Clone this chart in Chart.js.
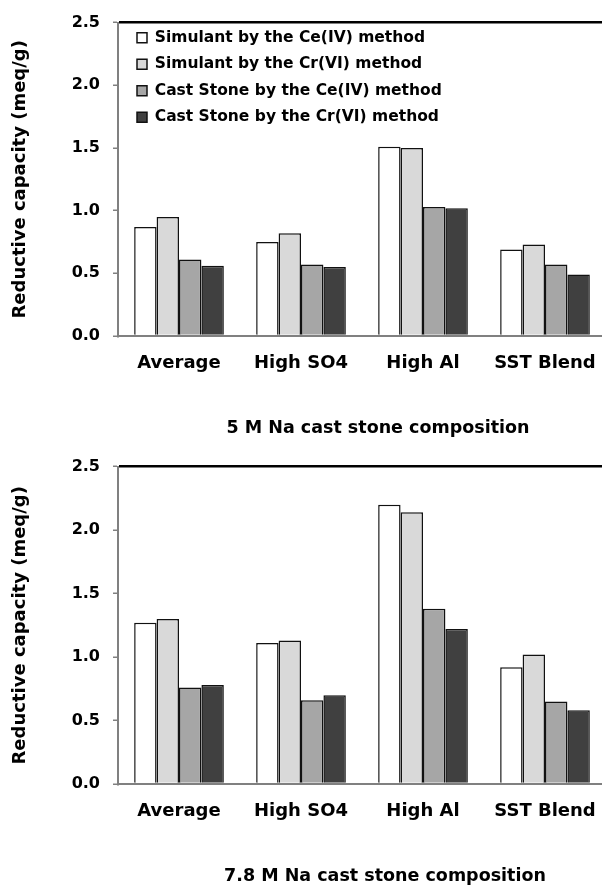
<!DOCTYPE html>
<html>
<head>
<meta charset="utf-8">
<script src="https://cdn.jsdelivr.net/npm/chart.js@4.4.1/dist/chart.umd.min.js"></script>
<style>
  body { margin: 0; background: #fff; overflow: hidden; width: 602px; height: 888px; }
  .panel { position: absolute; left: 0; width: 606px; height: 444px; }
  .caption {
    position: absolute; width: 400px; text-align: center;
    font: bold 17.5px "DejaVu Sans", sans-serif; line-height: 22px; color: #000;
  }
</style>
</head>
<body>
<div class="panel" style="top:0"><canvas id="top" width="606" height="444"></canvas></div>
<div class="caption" style="top:416px; left:178px">5 M Na cast stone composition</div>
<div class="panel" style="top:444px"><canvas id="bottom" width="606" height="444"></canvas></div>
<div class="caption" style="top:864px; left:185px">7.8 M Na cast stone composition</div>
<script>
const categories = ['Average', 'High SO4', 'High Al', 'SST Blend'];
const seriesNames = [
  'Simulant by the Ce(IV) method',
  'Simulant by the Cr(VI) method',
  'Cast Stone by the Ce(IV) method',
  'Cast Stone by the Cr(VI) method'
];
const seriesColors = ['#ffffff', '#d9d9d9', '#a6a6a6', '#404040'];

// 5 M Na
const simCe5 = [0.87, 0.75, 1.51, 0.69];
const simCr5 = [0.95, 0.82, 1.50, 0.73];
const csCe5 = [0.61, 0.57, 1.03, 0.57];
const csCr5 = [0.56, 0.55, 1.02, 0.49];

// 7.8 M Na
const simCe78 = [1.27, 1.11, 2.20, 0.92];
const simCr78 = [1.30, 1.13, 2.14, 1.02];
const csCe78 = [0.76, 0.66, 1.38, 0.65];
const csCr78 = [0.78, 0.70, 1.22, 0.58];

const yMin = 0, yMax = 2.5, yStep = 0.5;
const fontFamily = '"DejaVu Sans", sans-serif';

// legend sits inside the plot, nudge it off the axis
const legendNudge = {
  id: 'legendNudge',
  afterLayout(chart) {
    if (chart.legend && chart.options.plugins.legend.display) {
      chart.legend.left += 8;
      chart.legend.top += 19;
    }
  }
};

function makeChart(id, seriesData, showLegend, padTop) {
  const datasets = seriesData.map((d, i) => ({
    label: seriesNames[i],
    data: d,
    backgroundColor: seriesColors[i],
    borderColor: '#111',
    borderWidth: 1.5,
    categoryPercentage: 0.735,
    barPercentage: 1.0
  }));

  return new Chart(document.getElementById(id), {
    type: 'bar',
    data: { labels: categories, datasets: datasets },
    plugins: [legendNudge],
    options: {
      responsive: false,
      animation: false,
      layout: { padding: { top: padTop, right: 0, bottom: 0, left: 0 } },
      plugins: {
        tooltip: { enabled: false },
        legend: {
          display: showLegend,
          position: 'chartArea',
          align: 'start',
          labels: {
            boxWidth: 10,
            boxHeight: 10,
            padding: 11,
            color: '#000',
            font: { family: fontFamily, weight: 'bold', size: 15.5 }
          }
        }
      },
      scales: {
        x: {
          afterFit: (axis) => { axis.height = 444 - 336 - (padTop - 17); },
          grid: { display: true, drawOnChartArea: false, drawTicks: true, tickLength: 14, tickColor: 'rgba(0,0,0,0)' },
          border: { color: '#808080', width: 2 },
          ticks: {
            padding: 3,
            color: '#000',
            font: { family: fontFamily, weight: 'bold', size: 18 }
          }
        },
        y: {
          min: yMin,
          max: yMax,
          afterFit: (axis) => { axis.width = 118; },
          grid: {
            color: (ctx) => (ctx.tick && ctx.tick.value === yMax ? '#000' : 'rgba(0,0,0,0)'),
            lineWidth: 2.5,
            tickColor: '#808080',
            tickLength: 5,
            tickWidth: 1.5
          },
          border: { color: '#808080', width: 2 },
          ticks: {
            stepSize: yStep,
            padding: 13,
            color: '#000',
            font: { family: fontFamily, weight: 'bold', size: 16 },
            callback: (v) => Number(v).toFixed(1)
          },
          title: {
            display: true,
            text: 'Reductive capacity (meq/g)',
            color: '#000',
            padding: { top: 10, bottom: 0 },
            font: { family: fontFamily, weight: 'bold', size: 18 }
          }
        }
      }
    }
  });
}

makeChart('top', [simCe5, simCr5, csCe5, csCr5], true, 17);
makeChart('bottom', [simCe78, simCr78, csCe78, csCr78], false, 21);
</script>
</body>
</html>
